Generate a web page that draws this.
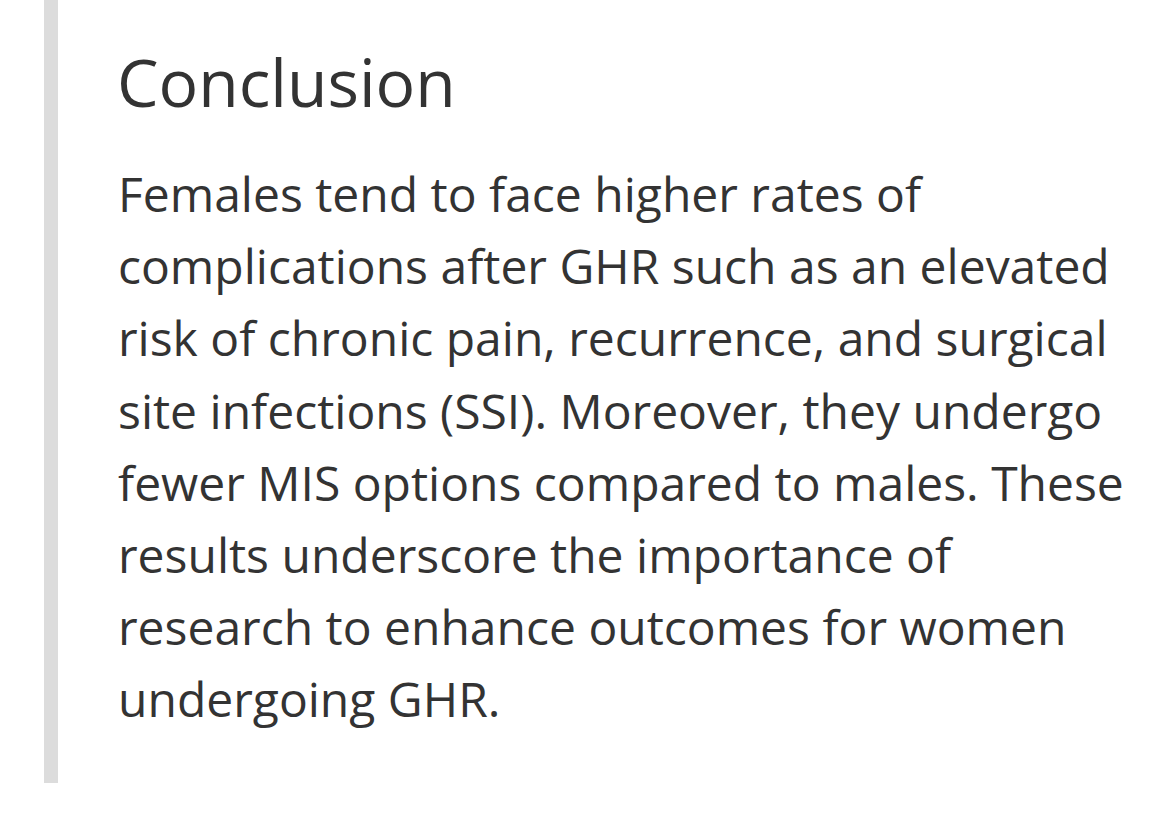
<!DOCTYPE html>
<html>
<head>
<meta charset="utf-8">
<script src="https://cdn.jsdelivr.net/npm/chart.js@4"></script>
<style>
  html, body { margin: 0; padding: 0; background: #fff; }
  body { width: 1170px; height: 823px; position: relative; overflow: hidden;
         font-family: "Open Sans", sans-serif; color: #333; }
  .bar { position: absolute; left: 44px; top: 0; width: 14px; height: 783px; background: #dcdcdc; }
  h1 { position: absolute; left: 117px; top: 36px; margin: 0; font-weight: 400; font-size: 66px; line-height: 90px; color: #333; }
  .txt { position: absolute; left: 118px; top: 158px; font-size: 48px; line-height: 72.2px; white-space: nowrap; }
</style>
</head>
<body>
<div class="bar"></div>
<h1>Conclusion</h1>
<div class="txt" id="txt"></div>
<script>
  const lines = [
    "Females tend to face higher rates of",
    "complications after GHR such as an elevated",
    "risk of chronic pain, recurrence, and surgical",
    "site infections (SSI). Moreover, they undergo",
    "fewer MIS options compared to males. These",
    "results underscore the importance of",
    "research to enhance outcomes for women",
    "undergoing GHR."
  ];
  const box = document.getElementById('txt');
  lines.forEach(l => {
    const d = document.createElement('div');
    d.textContent = l;
    box.appendChild(d);
  });
</script>
</body>
</html>
